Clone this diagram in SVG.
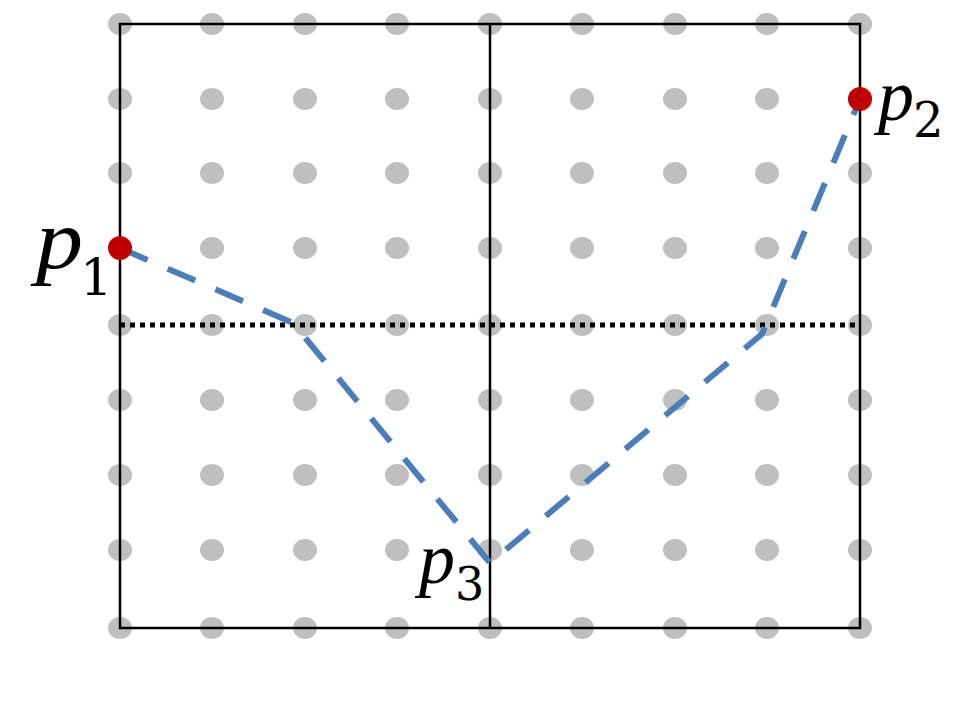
<svg xmlns="http://www.w3.org/2000/svg" width="960" height="720" viewBox="0 0 960 720">
<defs>
<style>
.g{fill:#bfbfbf}
.frame{fill:none;stroke:#000;stroke-width:2.5}
.dot{fill:none;stroke:#000;stroke-width:5;stroke-dasharray:5 5}
.path{fill:none;stroke:#4a7ebb;stroke-width:6;stroke-dasharray:30 22;stroke-linejoin:miter}
.pt{fill:#c00000}
.lab{font-family:"Liberation Serif","DejaVu Serif",serif;font-style:italic;fill:#000}
.sub{font-family:"DejaVu Serif","Liberation Serif",serif;fill:#000}
</style>
<ellipse id="d" rx="12" ry="11" class="g"/>
</defs>
<rect width="960" height="720" fill="#fff"/>
<g id="grid">
<g id="r0"><use href="#d" x="120" y="24"/><use href="#d" x="212" y="24"/><use href="#d" x="305" y="24"/><use href="#d" x="397" y="24"/><use href="#d" x="490" y="24"/><use href="#d" x="582" y="24"/><use href="#d" x="675" y="24"/><use href="#d" x="767" y="24"/><use href="#d" x="860" y="24"/></g>
<use href="#r0" y="75"/>
<use href="#r0" y="149"/>
<use href="#r0" y="224"/>
<use href="#r0" y="301"/>
<use href="#r0" y="376"/>
<use href="#r0" y="451"/>
<use href="#r0" y="526"/>
<use href="#r0" y="604"/>
</g>
<g id="frame">
<rect x="120" y="24" width="740" height="604" class="frame"/>
<line x1="490" y1="24" x2="490" y2="628" class="frame"/>
</g>
<g id="connectors">
<line x1="120" y1="325" x2="860" y2="325" class="dot"/>
<polyline points="120,248 293,323 490,563 762,334 860,99" class="path"/>
</g>
<g id="p1">
<circle cx="120" cy="248" r="12" class="pt"/>
<text x="36" y="268" class="lab" font-size="84" textLength="47" lengthAdjust="spacingAndGlyphs">p</text>
<text x="80" y="295" class="sub" font-size="51">1</text>
</g>
<g id="p2">
<circle cx="860" cy="99" r="12" class="pt"/>
<text x="878" y="120" class="lab" font-size="72">p</text>
<text x="913" y="137" class="sub" font-size="48">2</text>
</g>
<g id="p3">
<text x="419" y="583" class="lab" font-size="72">p</text>
<text x="455" y="600" class="sub" font-size="46">3</text>
</g>
</svg>
